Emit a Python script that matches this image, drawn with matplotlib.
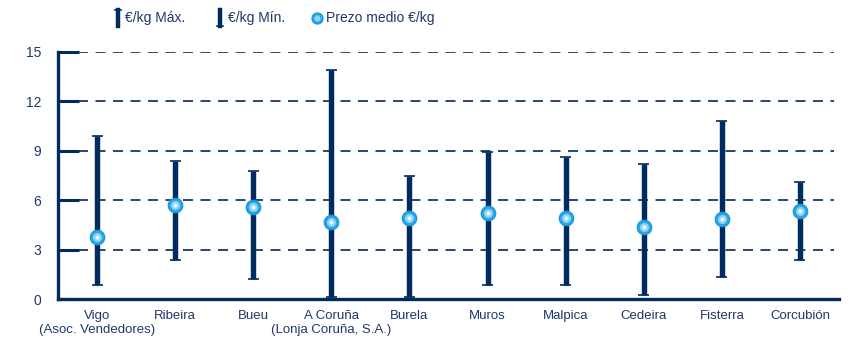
import matplotlib
matplotlib.use("Agg")
import matplotlib.pyplot as plt
from matplotlib.lines import Line2D
import numpy as np

plt.rcParams['font.family'] = ['Liberation Sans Narrow', 'Liberation Sans', 'DejaVu Sans']

# datos
lonjas = ["Vigo\n(Asoc. Vendedores)", "Ribeira", "Bueu", "A Coruña\n(Lonja Coruña, S.A.)",
          "Burela", "Muros", "Malpica", "Cedeira", "Fisterra", "Corcubión"]
precio_max = [9.9, 8.4, 7.8, 13.9, 7.5, 8.9, 8.6, 8.2, 10.8, 7.1]
precio_min = [0.85, 2.4, 1.25, 0.12, 0.12, 0.85, 0.85, 0.24, 1.33, 2.36]
precio_medio = [3.8, 5.7, 5.6, 4.7, 4.9, 5.25, 4.95, 4.4, 4.85, 5.35]
y_ticks = [0, 3, 6, 9, 12, 15]

navy = "#002B5F"
blue = "#27A6E6"
text_col = "#1F3868"

fig = plt.figure(figsize=(8.57, 3.55), dpi=100)
ax = fig.add_axes([58 / 857, (355 - 299.3) / 355, (839 - 58) / 857, (299.3 - 51.7) / 355])

x = np.arange(len(lonjas))
ax.vlines(x, precio_min, precio_max, color=navy, lw=3.9, zorder=2)
ax.hlines(precio_max, x - 0.07, x + 0.07, color=navy, lw=1.2, zorder=2)
ax.hlines(precio_min, x - 0.07, x + 0.07, color=navy, lw=1.2, zorder=2)
ax.plot(x, precio_medio, 'o', ms=10.5, color=blue, mec="#1594DA", mew=0.8, zorder=3)
ax.plot(x, precio_medio, 'o', ms=6.5, color="#8FD3F6", mec="none", zorder=4)
ax.plot(x, precio_medio, 'o', ms=3, color="#E6F6FE", mec="none", zorder=5)

ax.set_xlim(-0.5, len(lonjas) - 0.5)
ax.set_ylim(0, 15)
ax.set_yticks(y_ticks)
ax.set_xticks(x)
ax.set_xticklabels(lonjas, fontsize=9.5, color=text_col, linespacing=1.2)
ax.tick_params(axis='x', length=0, pad=8)
ax.tick_params(axis='y', direction='in', length=15, width=2.2, color=navy,
               labelsize=10, labelcolor=text_col, pad=12)
for t in y_ticks[1:]:
    ax.plot([-0.5 + 0.26, len(lonjas) - 0.5 - 0.06], [t, t], color=navy, lw=1.2,
            dashes=(6, 4.5), zorder=1)

for s in ['top', 'right']:
    ax.spines[s].set_visible(False)
for s in ['left', 'bottom']:
    ax.spines[s].set_color(navy)
    ax.spines[s].set_linewidth(2.4)

# leyenda
ly = 1 - 18 / 355
h = 0.022
fig.add_artist(Line2D([118 / 857] * 2, [ly - h, ly + h], color=navy, lw=3.2))
fig.add_artist(Line2D([115 / 857, 121 / 857], [ly + h] * 2, color=navy, lw=1.2))
fig.text(125 / 857, ly, "€/kg Máx.", fontsize=10, color=text_col, va='center', ha='left')
fig.add_artist(Line2D([220 / 857] * 2, [ly - h, ly + h], color=navy, lw=3.2))
fig.add_artist(Line2D([217 / 857, 223 / 857], [ly - h] * 2, color=navy, lw=1.2))
fig.text(228 / 857, ly, "€/kg Mín.", fontsize=10, color=text_col, va='center', ha='left')
fig.add_artist(Line2D([317 / 857], [ly], marker='o', ms=8, color=blue, mec="#1594DA", mew=0.8))
fig.add_artist(Line2D([317 / 857], [ly], marker='o', ms=4.5, color="#8FD3F6", mec="none"))
fig.text(326 / 857, ly, "Prezo medio €/kg", fontsize=10, color=text_col, va='center', ha='left')

fig.savefig("out.png", dpi=100)
